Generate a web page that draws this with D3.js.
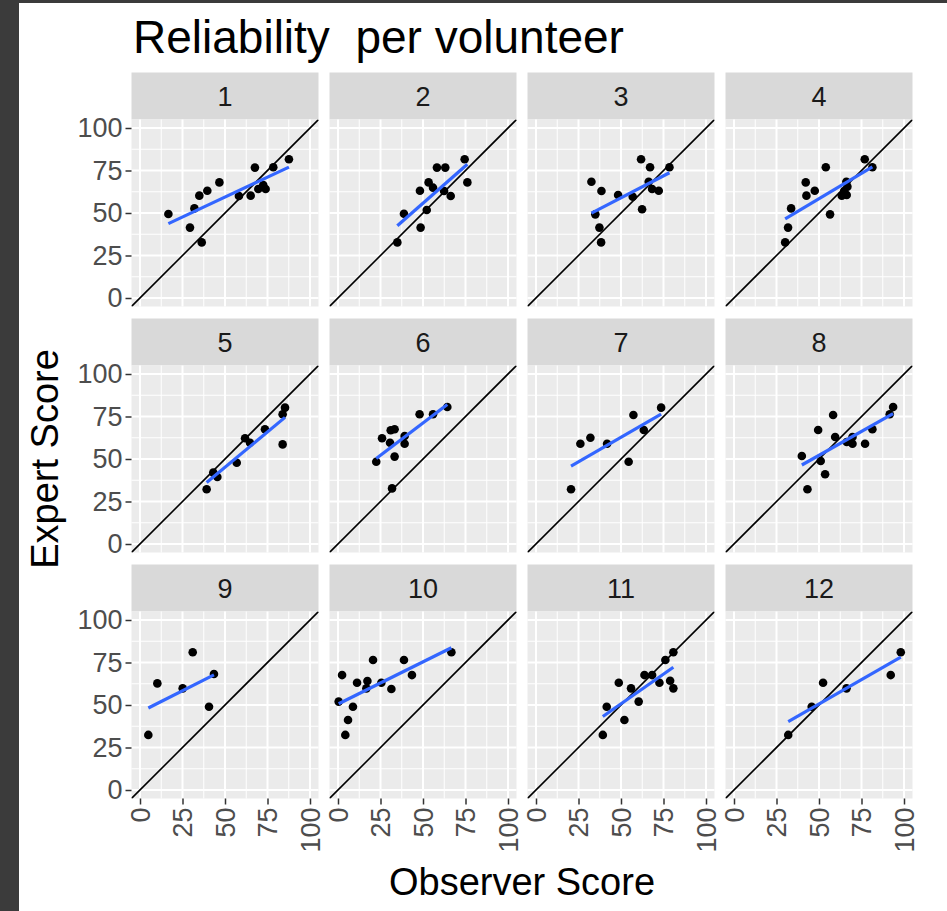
<!DOCTYPE html>
<html>
<head>
<meta charset="utf-8">
<script src="https://cdnjs.cloudflare.com/ajax/libs/d3/7.8.5/d3.min.js"></script>
<style>
  body { margin: 0; background: #fff; }
  svg { display: block; font-family: "Liberation Sans", Arial, sans-serif; }
</style>
</head>
<body>
<svg id="chart" width="947" height="911"></svg>
<script>
// panel labels (one per volunteer)
var volunteers = ["1","2","3","4","5","6","7","8","9","10","11","12"];
var ticks = [0, 25, 50, 75, 100];
var minorTicks = [12.5, 37.5, 62.5, 87.5];

// observer score (x) per volunteer
var observer = [
  [16.7, 29.4, 32, 34.9, 36.3, 39.6, 46.7, 58.2, 65.1, 67.6, 69.6, 72.5, 73.9, 78.4, 87.6],
  [34.9, 38.8, 48.6, 48.2, 52.2, 53.3, 55.9, 58.2, 63.1, 62.4, 66.3, 74.5, 76.1],
  [32.6, 38.5, 34.9, 37.3, 38.3, 48.3, 56.9, 61.8, 62.4, 67.1, 66.3, 68.3, 72.2, 78.5],
  [30.1, 31.8, 33.6, 42.2, 42.6, 47.5, 54, 56.5, 63.4, 64.8, 66.3, 66.1, 66.7, 76.9, 81.4],
  [39.2, 43.1, 45.5, 56.9, 61.8, 64.7, 73.5, 83.9, 83.9, 85.3],
  [22.5, 25.9, 30.6, 31, 33.3, 33.3, 31.8, 39.2, 39.2, 48, 55.9, 64.3],
  [20.6, 26.1, 32, 41.8, 54.5, 57.3, 63.4, 73.6],
  [39.9, 43.2, 49.5, 51, 53.6, 58.3, 59.5, 66.3, 69.7, 69.7, 77.1, 81.4, 91.6, 93.6],
  [4.9, 10.2, 25.1, 31, 40.6, 43.5],
  [0.4, 2.4, 4.3, 5.9, 8.8, 11.2, 17.3, 20.6, 16.7, 25.5, 31.4, 38.8, 43.5, 66.7],
  [39.3, 41.6, 48.7, 52, 55.9, 60.4, 63.8, 68.3, 72.6, 76.1, 78.9, 80.8, 80.8],
  [31.9, 45.7, 52.4, 66.2, 92.2, 98.1]
];

// expert score (y) per volunteer
var expert = [
  [49.4, 41.4, 52.7, 60.2, 32.7, 63.1, 68, 60, 60.2, 76.7, 64.1, 66.5, 64.1, 76.9, 81.6],
  [32.7, 49.6, 41.4, 63.1, 51.8, 68, 64.9, 76.7, 76.7, 62.9, 60, 81.6, 68],
  [68.4, 62.9, 49.2, 41.4, 32.7, 60.6, 59.6, 81.6, 52.2, 76.9, 68.4, 64.1, 63.1, 76.9],
  [32.7, 41.4, 52.7, 68, 60.2, 63.1, 76.9, 49.2, 60.2, 62.9, 60.6, 68.4, 65.5, 81.6, 76.9],
  [32.2, 42, 39.4, 47.8, 62.2, 59.6, 67.5, 58.6, 76.3, 80.2],
  [48.4, 62.2, 59.6, 66.9, 67.5, 51.4, 32.7, 59, 63.5, 76.3, 76.3, 80.6],
  [32.2, 59, 62.5, 59, 48.4, 75.9, 67.1, 80.2],
  [51.8, 32.2, 67.1, 48.8, 41, 75.9, 62.9, 60, 59, 62.9, 59, 67.5, 76.3, 80.6],
  [32.4, 62.7, 59.8, 81, 49, 68.2],
  [52, 67.6, 32.4, 41.2, 49, 63.1, 64.1, 76.5, 59.8, 63.1, 59.4, 76.5, 67.6, 81],
  [32.4, 49, 63.1, 41.2, 59.8, 52, 67.6, 67.6, 63.1, 76.5, 64.3, 59.8, 81],
  [32.4, 49, 63.1, 59.8, 67.6, 81]
];

var svg = d3.select("#chart");

// window frame on the left edge of the screenshot
svg.append("rect").attr("x", 0).attr("y", 0).attr("width", 19).attr("height", 911).attr("fill", "#3b3b3b");
svg.append("rect").attr("x", 0).attr("y", 0).attr("width", 947).attr("height", 3).attr("fill", "#3b3b3b");

var panelW = 187, panelH = 187, stripH = 47;
var colX = function(c) { return 131.5 + c * 198; };
var rowY = function(r) { return 119.5 + r * 246; };

var x = d3.scaleLinear().domain([-5, 105]).range([0, panelW]);
var y = d3.scaleLinear().domain([-5, 105]).range([panelH, 0]);

svg.append("defs").append("clipPath").attr("id", "panel-clip")
  .append("rect").attr("width", panelW).attr("height", panelH);

// least squares fit, like geom_smooth(method = "lm")
function lmFit(xs, ys) {
  var mx = d3.mean(xs), my = d3.mean(ys);
  var sxy = d3.sum(xs, function(d, i) { return (d - mx) * (ys[i] - my); });
  var sxx = d3.sum(xs, function(d) { return (d - mx) * (d - mx); });
  var b = sxy / sxx;
  return function(v) { return my + b * (v - mx); };
}

volunteers.forEach(function(label, i) {
  var c = i % 4, r = Math.floor(i / 4);
  var g = svg.append("g").attr("transform", "translate(" + colX(c) + "," + rowY(r) + ")");

  // strip
  g.append("rect").attr("x", 0).attr("y", -stripH).attr("width", panelW).attr("height", stripH).attr("fill", "#d9d9d9");
  g.append("text").attr("x", panelW / 2).attr("y", -stripH / 2).attr("dy", "0.36em")
    .attr("text-anchor", "middle").attr("font-size", 27).attr("fill", "#1a1a1a").text(label);

  // panel background + grid
  g.append("rect").attr("width", panelW).attr("height", panelH).attr("fill", "#ebebeb");
  minorTicks.forEach(function(t) {
    g.append("line").attr("x1", x(t)).attr("x2", x(t)).attr("y1", 0).attr("y2", panelH).attr("stroke", "#fff").attr("stroke-width", 1);
    g.append("line").attr("y1", y(t)).attr("y2", y(t)).attr("x1", 0).attr("x2", panelW).attr("stroke", "#fff").attr("stroke-width", 1);
  });
  ticks.forEach(function(t) {
    g.append("line").attr("x1", x(t)).attr("x2", x(t)).attr("y1", 0).attr("y2", panelH).attr("stroke", "#fff").attr("stroke-width", 2);
    g.append("line").attr("y1", y(t)).attr("y2", y(t)).attr("x1", 0).attr("x2", panelW).attr("stroke", "#fff").attr("stroke-width", 2);
  });

  var inner = g.append("g").attr("clip-path", "url(#panel-clip)");

  // identity line
  inner.append("line").attr("x1", x(-5)).attr("y1", y(-5)).attr("x2", x(105)).attr("y2", y(105))
    .attr("stroke", "#000").attr("stroke-width", 1.6);

  var xs = observer[i], ys = expert[i];
  var pts = xs.map(function(d, j) { return [d, ys[j]]; });

  inner.selectAll("circle").data(pts).enter().append("circle")
    .attr("cx", function(d) { return x(d[0]); })
    .attr("cy", function(d) { return y(d[1]); })
    .attr("r", 4.3).attr("fill", "#000");

  var fit = lmFit(xs, ys);
  var ext = d3.extent(xs);
  inner.append("line")
    .attr("x1", x(ext[0])).attr("y1", y(fit(ext[0])))
    .attr("x2", x(ext[1])).attr("y2", y(fit(ext[1])))
    .attr("stroke", "#3366ff").attr("stroke-width", 3.2);

  // axes only on outer panels
  if (c === 0) {
    var ya = d3.axisLeft(y).tickValues(ticks).tickSize(6).tickPadding(3);
    var yg = g.append("g").call(ya);
    yg.select(".domain").remove();
    yg.selectAll("line").attr("stroke", "#333").attr("stroke-width", 1.5);
    yg.selectAll("text").attr("font-size", 27).attr("fill", "#4d4d4d").attr("font-family", null);
  }
  if (r === 2) {
    var xa = d3.axisBottom(x).tickValues(ticks).tickSize(6).tickPadding(3);
    var xg = g.append("g").attr("transform", "translate(0," + panelH + ")").call(xa);
    xg.select(".domain").remove();
    xg.selectAll("line").attr("stroke", "#333").attr("stroke-width", 1.5);
    xg.selectAll("text").attr("font-size", 27).attr("fill", "#4d4d4d").attr("font-family", null)
      .attr("transform", "rotate(-90)")
      .attr("text-anchor", "end")
      .attr("x", -9).attr("y", 0).attr("dy", "0.35em");
  }
});

// titles
svg.append("text").attr("x", 133).attr("y", 53).attr("font-size", 46).attr("fill", "#000")
  .style("white-space", "pre").text("Reliability  per volunteer");

svg.append("text").attr("x", (colX(0) + colX(3) + panelW) / 2).attr("y", 895)
  .attr("text-anchor", "middle").attr("font-size", 38).attr("fill", "#000").text("Observer Score");

svg.append("text").attr("transform", "translate(58,459) rotate(-90)")
  .attr("text-anchor", "middle").attr("font-size", 38).attr("fill", "#000").text("Expert Score");
</script>
</body>
</html>
